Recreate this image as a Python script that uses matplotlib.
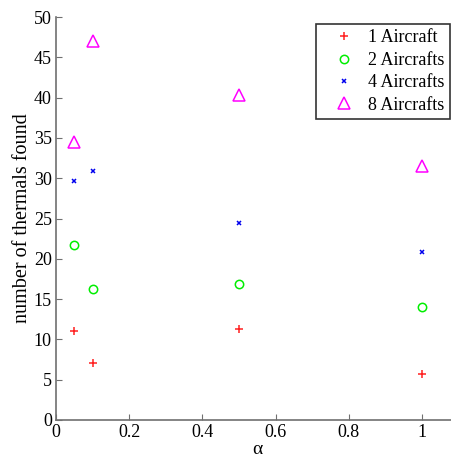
import matplotlib
matplotlib.use("Agg")
import matplotlib.pyplot as plt

plt.rcParams['font.family'] = ['Liberation Serif', 'DejaVu Serif']

alpha = [0.05, 0.1, 0.5, 1.0]
labels = ["1 Aircraft", "2 Aircrafts", "4 Aircrafts", "8 Aircrafts"]
ac1 = [11.0, 7.1, 11.25, 5.7]
ac2 = [21.7, 16.25, 16.9, 14.05]
ac4 = [29.6, 30.9, 24.4, 20.85]
ac8 = [34.5, 47.05, 40.3, 31.55]
xticks = [0, 0.2, 0.4, 0.6, 0.8, 1]
yticks = [0, 5, 10, 15, 20, 25, 30, 35, 40, 45, 50]

fig = plt.figure(figsize=(4.52, 4.58), dpi=100)
ax = fig.add_axes([56/452, 38/458, 1.1*366/452, 403/458])

ax.plot(alpha, ac1, ls='none', marker='+', color='#ff2020', ms=6, mew=1.1, label=labels[0])
ax.plot(alpha, ac2, ls='none', marker='o', mfc='none', mec='#00ee00', ms=6, mew=1.1, label=labels[1])
ax.plot(alpha, ac4, ls='none', marker='x', color='#0000ee', ms=3.5, mew=1.1, label=labels[2])
ax.plot(alpha, ac8, ls='none', marker='^', mfc='none', mec='#ff00ff', ms=8, mew=1.1, label=labels[3])

ax.set_xlim(0, 1.1)
ax.set_ylim(0, 50)
ax.set_xticks(xticks)
ax.set_xticklabels(['0', '0.2', '0.4', '0.6', '0.8', '1'])
ax.set_yticks(yticks)
for s in ['top', 'right']:
    ax.spines[s].set_visible(False)
for s in ['left', 'bottom']:
    ax.spines[s].set_color('#707070')
    ax.spines[s].set_linewidth(1.2)
ax.tick_params(direction='in', length=4, color='#707070', labelsize=13, pad=3)

ax.set_xlabel('α', fontsize=14, labelpad=0)
ax.set_ylabel('number of thermals found', fontsize=14.5, labelpad=1)

leg = ax.legend(loc='upper left', fontsize=13, frameon=True, fancybox=False, edgecolor='black',
                handlelength=2.5, handletextpad=0.08, borderpad=0.3, labelspacing=0.3,
                borderaxespad=0)
leg.get_frame().set_linewidth(1.2)
leg.set_bbox_to_anchor((316/452, (458-24)/458), transform=fig.transFigure)

fig.savefig('out.png', dpi=100)
